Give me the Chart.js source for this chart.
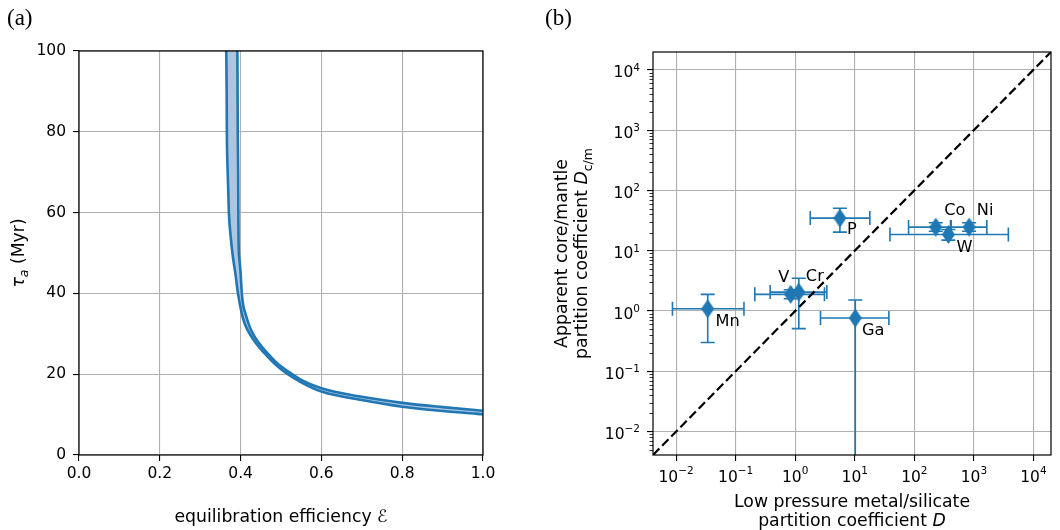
<!DOCTYPE html>
<html>
<head>
<meta charset="utf-8">
<script src="https://cdn.jsdelivr.net/npm/chart.js@4.4.1/dist/chart.umd.min.js"></script>
<style>
  html, body { margin: 0; padding: 0; background: #fff; }
  #wrap { position: relative; width: 1060px; height: 530px; }
  #wrap canvas { position: absolute; top: 0; }
  #tauChart { left: 0; }
  #partChart { left: 530px; }
</style>
</head>
<body>
<div id="wrap">
  <canvas id="tauChart" width="530" height="530"></canvas>
  <canvas id="partChart" width="530" height="530"></canvas>
</div>
<script>
// ── Panel (a): accretion timescale vs equilibration efficiency ───────
const effLow  = [0.3645, 0.3655, 0.366, 0.368, 0.371, 0.3765, 0.381, 0.387, 0.3935, 0.403, 0.411,
                 0.4225, 0.44, 0.459, 0.485, 0.515, 0.55, 0.60, 0.70, 0.80, 0.90, 1.00];
const tauLow  = [100, 90, 80, 70, 60, 53, 49, 45, 40, 35, 32.3,
                 30.0, 27.4, 25.2, 22.5, 20.1, 18.0, 15.7, 13.6, 11.95, 10.9, 10.07];
const effHigh = [0.392, 0.3925, 0.393, 0.394, 0.3945, 0.395, 0.3975, 0.400, 0.403, 0.4065, 0.412,
                 0.420, 0.4306, 0.445, 0.463, 0.49, 0.52, 0.55, 0.60, 0.70, 0.80, 0.90, 1.00];
const tauHigh = [100, 90, 80, 70, 60, 53, 48, 45, 40, 37, 35,
                 32.4, 30.0, 27.8, 25.6, 22.8, 20.5, 18.6, 16.5, 14.4, 12.9, 11.85, 10.96];
const effTicks = [0, 0.2, 0.4, 0.6, 0.8, 1.0];
const tauTicks = [0, 20, 40, 60, 80, 100];

// ── Panel (b): low-pressure D vs apparent core/mantle D ──────────────
const elements = ['Mn', 'V', 'Cr', 'P', 'Ga', 'Co', 'Ni', 'W'];
const dLow     = [0.034, 0.84, 1.15, 5.63, 10.2, 229, 832, 373];
const dLowMin  = [0.0087, 0.21, 0.38, 1.79, 2.66, 80, 415, 39];
const dLowMax  = [0.138, 3.1, 3.4, 17.9, 37.4, 405, 1650, 3790];
const dCm      = [1.09, 1.89, 2.06, 34.7, 0.765, 24.6, 24.6, 18.6];
const dCmMin   = [0.30, 1.6, 0.51, 20.3, 0.0001, 21, 21, 15];
const dCmMax   = [1.89, 2.25, 3.5, 50.7, 1.52, 29, 29, 22.5];
const decadeTicks = [1e-2, 1e-1, 1, 1e1, 1e2, 1e3, 1e4];
const oneToOne = [0.0041, 19700];

// label offsets (px) from each marker
const labelOffsets = [[20, 13], [-7, -17], [16, -15], [12, 12], [18, 13], [19, -16], [16, -16], [16, 13]];

const FONT = '"DejaVu Sans", Verdana, sans-serif';
const SERIF = '"Liberation Serif", "Times New Roman", serif';
const BLUE = '#1f77b4';
const BAND = '#b0c4de';
const GRID = '#b0b0b0';
const TICK_SIZE = 15.5;
const TITLE_SIZE = 17.3;
const NAME_SIZE = 16.2;

// ── Helpers ──────────────────────────────────────────────────────────
function drawRich(ctx, parts, x, y, size, angle) {
  const fontOf = p => `${p.italic ? 'italic ' : ''}${p.sub ? size * 0.72 : size}px ${FONT}`;
  let width = 0;
  parts.forEach(p => { ctx.font = fontOf(p); width += ctx.measureText(p.text).width; });
  ctx.save();
  ctx.translate(x, y);
  if (angle) ctx.rotate(angle);
  ctx.textAlign = 'left';
  ctx.textBaseline = 'alphabetic';
  ctx.fillStyle = '#000';
  let cx = -width / 2;
  parts.forEach(p => {
    ctx.font = fontOf(p);
    ctx.fillText(p.text, cx, p.sub ? size * 0.26 : 0);
    cx += ctx.measureText(p.text).width;
  });
  ctx.restore();
}

const framePlugin = {
  id: 'frame',
  afterDraw(chart) {
    const { ctx, chartArea: a } = chart;
    ctx.save();
    ctx.strokeStyle = '#000';
    ctx.lineWidth = 1.2;
    ctx.strokeRect(a.left, a.top, a.right - a.left, a.bottom - a.top);
    ctx.restore();
  },
};

// axis titles and panel letter, placed relative to the plot area
const titlePlugin = {
  id: 'titles',
  afterDraw(chart, args, opts) {
    const { ctx, chartArea: a } = chart;
    const midX = (a.left + a.right) / 2;
    const midY = (a.top + a.bottom) / 2;
    (opts.items || []).forEach(it => {
      if (it.axis === 'x') drawRich(ctx, it.parts, midX, a.bottom + it.dy, TITLE_SIZE, 0);
      else drawRich(ctx, it.parts, a.left + it.dx, midY, TITLE_SIZE, -Math.PI / 2);
    });
    if (opts.panel) {
      ctx.save();
      ctx.font = `23px ${SERIF}`;
      ctx.fillStyle = '#000';
      ctx.textBaseline = 'alphabetic';
      ctx.fillText(opts.panel.text, opts.panel.x, opts.panel.y);
      ctx.restore();
    }
  },
};

function gridOpts() {
  return { color: GRID, lineWidth: 1.1, tickColor: '#000', tickLength: 6, tickWidth: 1.1 };
}

// ── Panel (a) ────────────────────────────────────────────────────────
const lowCurve  = effLow.map((e, i) => ({ x: e, y: tauLow[i] }));
const highCurve = effHigh.map((e, i) => ({ x: e, y: tauHigh[i] }));
const bandShape = lowCurve.concat(highCurve.slice().reverse());

new Chart(document.getElementById('tauChart'), {
  type: 'scatter',
  data: {
    datasets: [
      { data: bandShape, showLine: true, fill: 'shape', backgroundColor: BAND,
        borderColor: 'rgba(0,0,0,0)', borderWidth: 0, pointRadius: 0, tension: 0, order: 3 },
      { data: lowCurve, showLine: true, borderColor: BLUE, borderWidth: 2.6, pointRadius: 0,
        cubicInterpolationMode: 'monotone', order: 1 },
      { data: highCurve, showLine: true, borderColor: BLUE, borderWidth: 2.6, pointRadius: 0,
        cubicInterpolationMode: 'monotone', order: 2 },
    ],
  },
  options: {
    responsive: false,
    animation: false,
    layout: { padding: { top: 51, right: 47, bottom: 0, left: 0 } },
    plugins: {
      legend: { display: false },
      tooltip: { enabled: false },
      titles: {
        items: [
          { axis: 'x', dy: 67, parts: [{ text: 'equilibration efficiency ℰ' }] },
          { axis: 'y', dx: -55, parts: [{ text: 'τ', italic: true }, { text: 'a', italic: true, sub: true }, { text: ' (Myr)' }] },
        ],
        panel: { text: '(a)', x: 7, y: 25 },
      },
    },
    scales: {
      x: {
        type: 'linear', min: 0, max: 1,
        afterBuildTicks: s => { s.ticks = effTicks.map(v => ({ value: v })); },
        afterFit: s => { s.height = 75; },
        grid: gridOpts(),
        border: { display: false },
        ticks: { callback: v => v.toFixed(1), color: '#000', padding: 4, maxRotation: 0,
                 font: { family: FONT, size: TICK_SIZE } },
      },
      y: {
        type: 'linear', min: 0, max: 100,
        afterBuildTicks: s => { s.ticks = tauTicks.map(v => ({ value: v })); },
        afterFit: s => { s.width = 79; },
        grid: gridOpts(),
        border: { display: false },
        ticks: { color: '#000', padding: 7, font: { family: FONT, size: TICK_SIZE } },
      },
    },
  },
  plugins: [framePlugin, titlePlugin],
});

// ── Panel (b) ────────────────────────────────────────────────────────
// thin diamond marker
const diamond = document.createElement('canvas');
diamond.width = 13;
diamond.height = 19;
(function () {
  const c = diamond.getContext('2d');
  c.fillStyle = BLUE;
  c.beginPath();
  c.moveTo(6.5, 0);
  c.lineTo(13, 9.5);
  c.lineTo(6.5, 19);
  c.lineTo(0, 9.5);
  c.closePath();
  c.fill();
})();

const errorBarPlugin = {
  id: 'errorBars',
  beforeDatasetsDraw(chart) {
    const { ctx, chartArea: a, scales: { x, y } } = chart;
    const cap = 7;
    ctx.save();
    ctx.beginPath();
    ctx.rect(a.left, a.top, a.right - a.left, a.bottom - a.top);
    ctx.clip();
    ctx.strokeStyle = BLUE;
    ctx.lineWidth = 1.6;
    elements.forEach((_, i) => {
      const px = x.getPixelForValue(dLow[i]);
      const py = y.getPixelForValue(dCm[i]);
      const x0 = x.getPixelForValue(dLowMin[i]);
      const x1 = x.getPixelForValue(dLowMax[i]);
      const y0 = y.getPixelForValue(dCmMin[i]);
      const y1 = y.getPixelForValue(dCmMax[i]);
      ctx.beginPath();
      ctx.moveTo(x0, py); ctx.lineTo(x1, py);
      ctx.moveTo(x0, py - cap); ctx.lineTo(x0, py + cap);
      ctx.moveTo(x1, py - cap); ctx.lineTo(x1, py + cap);
      ctx.moveTo(px, y0); ctx.lineTo(px, y1);
      ctx.moveTo(px - cap, y0); ctx.lineTo(px + cap, y0);
      ctx.moveTo(px - cap, y1); ctx.lineTo(px + cap, y1);
      ctx.stroke();
    });
    ctx.restore();
  },
  afterDatasetsDraw(chart) {
    const { ctx, scales: { x, y } } = chart;
    ctx.save();
    ctx.font = `${NAME_SIZE}px ${FONT}`;
    ctx.fillStyle = '#000';
    ctx.textAlign = 'center';
    ctx.textBaseline = 'middle';
    elements.forEach((name, i) => {
      const [dx, dy] = labelOffsets[i];
      ctx.fillText(name, x.getPixelForValue(dLow[i]) + dx, y.getPixelForValue(dCm[i]) + dy);
    });
    ctx.restore();
  },
};

// power-of-ten tick labels and minor ticks on the log axes
const logLabelPlugin = {
  id: 'logLabels',
  afterDraw(chart) {
    const { ctx, chartArea: a, scales: { x, y } } = chart;
    const expText = v => String(Math.round(Math.log10(v))).replace('-', '\u2212');
    ctx.save();
    ctx.fillStyle = '#000';
    ctx.textAlign = 'left';
    ctx.textBaseline = 'alphabetic';
    decadeTicks.forEach(v => {
      ctx.font = `${TICK_SIZE}px ${FONT}`;
      const w1 = ctx.measureText('10').width;
      ctx.font = `10.5px ${FONT}`;
      const w2 = ctx.measureText(expText(v)).width;

      const px = x.getPixelForValue(v);
      const sx = px - (w1 + w2) / 2;
      ctx.font = `${TICK_SIZE}px ${FONT}`;
      ctx.fillText('10', sx, a.bottom + 26.7);
      ctx.font = `10.5px ${FONT}`;
      ctx.fillText(expText(v), sx + w1, a.bottom + 19.3);

      const py = y.getPixelForValue(v);
      const sy = a.left - 13 - (w1 + w2);
      ctx.font = `${TICK_SIZE}px ${FONT}`;
      ctx.fillText('10', sy, py + 7.5);
      ctx.font = `10.5px ${FONT}`;
      ctx.fillText(expText(v), sy + w1, py + 0.8);
    });

    ctx.strokeStyle = '#000';
    ctx.lineWidth = 0.8;
    ctx.beginPath();
    for (let n = -3; n <= 4; n++) {
      for (let k = 2; k <= 9; k++) {
        const v = k * Math.pow(10, n);
        if (v < y.min || v > y.max) continue;
        const py = Math.round(y.getPixelForValue(v)) + 0.5;
        ctx.moveTo(a.left - 3.5, py);
        ctx.lineTo(a.left, py);
      }
    }
    ctx.stroke();
    ctx.restore();
  },
};

new Chart(document.getElementById('partChart'), {
  type: 'scatter',
  data: {
    datasets: [
      { data: elements.map((_, i) => ({ x: dLow[i], y: dCm[i] })),
        pointStyle: diamond, pointRadius: 9, backgroundColor: BLUE, borderWidth: 0, order: 2 },
      { data: oneToOne.map(v => ({ x: v, y: v })), showLine: true, borderColor: '#000',
        borderWidth: 2.2, borderDash: [9, 4], pointRadius: 0, order: 1 },
    ],
  },
  options: {
    responsive: false,
    animation: false,
    layout: { padding: { top: 52, right: 3, bottom: 0, left: 0 } },
    plugins: {
      legend: { display: false },
      tooltip: { enabled: false },
      titles: {
        items: [
          { axis: 'x', dy: 52, parts: [{ text: 'Low pressure metal/silicate' }] },
          { axis: 'x', dy: 70.5, parts: [{ text: 'partition coefficient ' }, { text: 'D', italic: true }] },
          { axis: 'y', dx: -85.7, parts: [{ text: 'Apparent core/mantle' }] },
          { axis: 'y', dx: -65.7, parts: [{ text: 'partition coefficient ' }, { text: 'D', italic: true }, { text: 'c/m', sub: true }] },
        ],
        panel: { text: '(b)', x: 15, y: 25 },
      },
    },
    scales: {
      x: {
        type: 'logarithmic', min: oneToOne[0], max: oneToOne[1],
        afterBuildTicks: s => { s.ticks = decadeTicks.map(v => ({ value: v })); },
        afterFit: s => { s.height = 75; },
        grid: gridOpts(),
        border: { display: false },
        ticks: { display: false },
      },
      y: {
        type: 'logarithmic', min: oneToOne[0], max: oneToOne[1],
        afterBuildTicks: s => { s.ticks = decadeTicks.map(v => ({ value: v })); },
        afterFit: s => { s.width = 123; },
        grid: gridOpts(),
        border: { display: false },
        ticks: { display: false },
      },
    },
  },
  plugins: [errorBarPlugin, framePlugin, titlePlugin, logLabelPlugin],
});
</script>
</body>
</html>
